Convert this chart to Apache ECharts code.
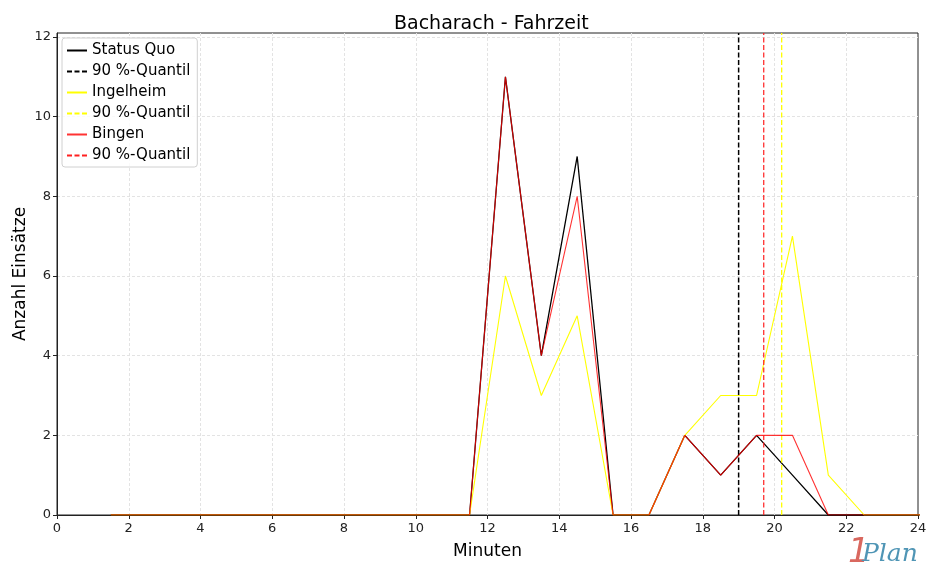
<!DOCTYPE html>
<html>
<head>
<meta charset="utf-8">
<script src="https://cdn.jsdelivr.net/npm/echarts@6/dist/echarts.min.js"></script>
<style>
  html, body { margin: 0; padding: 0; background: #fff; }
  #chart { width: 930px; height: 583px; }
</style>
</head>
<body>
<div id="chart"></div>
<script>
// Fahrzeit bins (Minuten, Klassenmitte)
var minutes = [1.5, 2.5, 3.5, 4.5, 5.5, 6.5, 7.5, 8.5, 9.5, 10.5, 11.5, 12.5,
               13.5, 14.5, 15.5, 16.5, 17.5, 18.5, 19.5, 20.5, 21.5, 22.5, 23.5, 24.5];
var statusQuo = [0, 0, 0, 0, 0, 0, 0, 0, 0, 0, 0, 11, 4, 9, 0, 0, 2, 1, 2, 1, 0, 0, 0, 0];
var ingelheim = [0, 0, 0, 0, 0, 0, 0, 0, 0, 0, 0, 6, 3, 5, 0, 0, 2, 3, 3, 7, 1, 0, 0, 0];
var bingen    = [0, 0, 0, 0, 0, 0, 0, 0, 0, 0, 0, 11, 4, 8, 0, 0, 2, 1, 2, 2, 0, 0, 0, 0];

// 90 %-Quantile
var quantilStatusQuo = 19.0;
var quantilIngelheim = 20.2;
var quantilBingen = 19.7;

var yMax = 12.1;

// zero-width spaces keep the three legend entries apart
var seriesNames = ['Status Quo', '90 %-Quantil', 'Ingelheim', '90 %-Quantil\u200b', 'Bingen', '90 %-Quantil\u200b\u200b'];

function pairs(ys) {
  var out = [];
  for (var i = 0; i < minutes.length; i++) out.push([minutes[i], ys[i]]);
  return out;
}

function dataLine(name, ys, color, width) {
  return {
    name: name,
    type: 'line',
    data: pairs(ys),
    symbol: 'none',
    clip: true,
    lineStyle: {color: color, width: width},
    itemStyle: {color: color},
    emphasis: {disabled: true}
  };
}

// vertical dashed line over the full height of the plot
function quantilLine(name, x, color, width) {
  return {
    name: name,
    type: 'line',
    data: [[x, 0], [x, yMax]],
    symbol: 'none',
    clip: false,
    lineStyle: {color: color, width: width, type: [5, 2.5]},
    itemStyle: {color: color},
    emphasis: {disabled: true}
  };
}

var chart = echarts.init(document.getElementById('chart'), null, {renderer: 'canvas'});

chart.setOption({
  animation: false,
  textStyle: {fontFamily: 'DejaVu Sans'},
  title: {
    text: 'Bacharach - Fahrzeit',
    left: 389,
    top: 10,
    textStyle: {fontSize: 19, fontWeight: 'normal', color: '#000', fontFamily: 'DejaVu Sans'}
  },
  legend: {
    orient: 'vertical',
    left: 62,
    top: 38,
    itemWidth: 20,
    itemHeight: 10,
    itemGap: 6,
    padding: [5, 7, 4, 4],
    borderColor: '#d0d0d0',
    borderWidth: 1,
    borderRadius: 3,
    backgroundColor: 'rgba(255,255,255,0.8)',
    selectedMode: false,
    itemStyle: {color: 'transparent', borderWidth: 0, opacity: 0},
    data: seriesNames,
    textStyle: {fontSize: 15, color: '#000', fontFamily: 'DejaVu Sans'}
  },
  grid: {
    left: 57,
    right: 12,
    top: 33,
    bottom: 68,
    outerBoundsMode: 'none',
    containLabel: false,
    show: true,
    borderColor: '#222',
    borderWidth: 1
  },
  xAxis: {
    type: 'value',
    min: 0,
    max: 24,
    interval: 2,
    name: 'Minuten',
    nameLocation: 'middle',
    nameGap: 28,
    nameMoveOverlap: false,
    nameTextStyle: {fontSize: 17, color: '#000'},
    axisLine: {show: true, lineStyle: {color: '#222'}},
    axisTick: {show: true, length: 4, lineStyle: {color: '#222'}},
    axisLabel: {fontSize: 13, color: '#222', margin: 7},
    splitLine: {show: true, showMinLine: false, showMaxLine: false, lineStyle: {color: '#e3e3e3', type: [3, 2]}}
  },
  yAxis: {
    type: 'value',
    min: 0,
    max: yMax,
    interval: 2,
    name: 'Anzahl Einsätze',
    nameLocation: 'middle',
    nameGap: 28,
    nameMoveOverlap: false,
    nameTextStyle: {fontSize: 17, color: '#000'},
    axisLine: {show: true, lineStyle: {color: '#222'}},
    axisTick: {show: true, length: 4, lineStyle: {color: '#222'}},
    axisLabel: {fontSize: 13, color: '#222', margin: 6, showMaxLabel: false},
    splitLine: {show: true, showMinLine: false, showMaxLine: false, lineStyle: {color: '#e3e3e3', type: [3, 2]}}
  },
  series: [
    dataLine(seriesNames[0], statusQuo, '#000000', 1.3),
    quantilLine(seriesNames[1], quantilStatusQuo, '#000000', 1.5),
    dataLine(seriesNames[2], ingelheim, 'rgba(255,255,0,1)', 1.1),
    quantilLine(seriesNames[3], quantilIngelheim, '#ffff00', 1.3),
    dataLine(seriesNames[4], bingen, 'rgba(255,0,0,0.8)', 1.1),
    quantilLine(seriesNames[5], quantilBingen, '#ff2020', 1.2)
  ],
  graphic: [
    {
      type: 'text',
      left: 848,
      top: 536,
      style: {
        text: '1',
        fontSize: 34,
        fontStyle: 'italic',
        fontFamily: 'DejaVu Sans',
        fontWeight: 'lighter',
        fill: '#d9685f'
      },
      silent: true
    },
    {
      type: 'text',
      left: 862,
      top: 542,
      style: {
        text: 'Plan',
        fontSize: 25,
        fontStyle: 'italic',
        fontFamily: 'DejaVu Serif',
        fill: '#4f95b5'
      },
      silent: true
    }
  ]
});
</script>
</body>
</html>
